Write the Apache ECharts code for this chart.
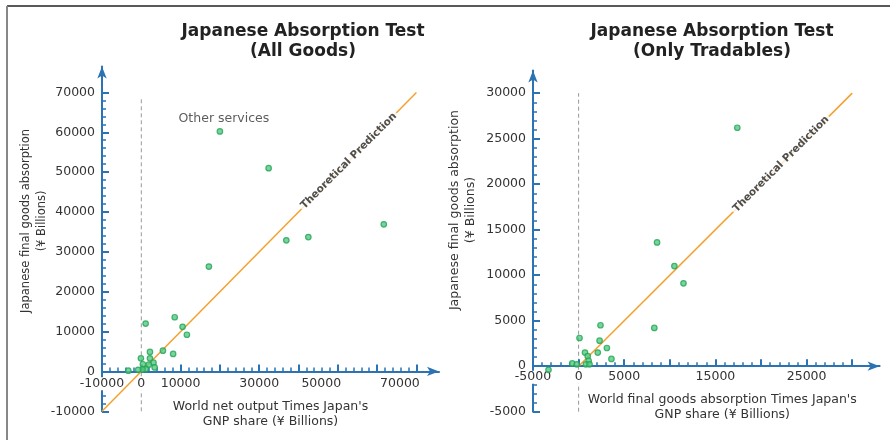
<!DOCTYPE html>
<html>
<head>
<meta charset="utf-8">
<script src="https://cdn.jsdelivr.net/npm/echarts@6.0.0/dist/echarts.min.js"></script>
<style>html,body{margin:0;padding:0;background:#fff;}#c{width:890px;height:440px;}</style>
</head>
<body>
<div id="c"></div>
<script>
// ---------- data ----------
var leftX = [20000, 32400, 61700, 42500, 36900, 17200, 8500, 10500, 11600, 1100, 5500, 8100, 2200, -100, 2200, 400, 3100, 1900, 3400, 1100, 300, -800, -3300];
var leftY = [60200, 51000, 36900, 33700, 32900, 26300, 13600, 11200, 9200, 12000, 5200, 4400, 4900, 3300, 3300, 1800, 2200, 1700, 1000, 600, 500, 400, 200];
var leftAnnotation = 'Other services';   // label of leftX[0], leftY[0]
var rightX = [17400, 8600, 10500, 11500, 8300, 2400, 100, 2300, 3100, 700, 2100, 1000, 3600, 1100, 800, 1200, -700, -200, -3300];
var rightY = [26200, 13600, 11000, 9100, 4200, 4500, 3100, 2800, 2000, 1500, 1500, 1100, 800, 600, 200, 200, 300, 200, -400];

var leftPrediction = [[-10000, -10000], [70000, 70000]];
var rightPrediction = [[0, 0], [30000, 30000]];
var leftPredLabelAt = [52800, 52800];
var rightPredLabelAt = [22200, 22200];
var leftZeroLine = [[0, -10000], [0, 69000]];
var rightZeroLine = [[0, -5000], [0, 30000]];

var leftMajorTicks = [-10000, 0, 10000, 20000, 30000, 40000, 50000, 60000, 70000];
var leftXTickLabels = [-10000, 0, 10000, 30000, 50000, 70000];
var leftYTickLabels = [-10000, 0, 10000, 20000, 30000, 40000, 50000, 60000, 70000];
var rightMajorTicks = [-5000, 0, 5000, 10000, 15000, 20000, 25000, 30000];
var rightXTickLabels = [-5000, 0, 5000, 15000, 25000];
var rightYTickLabels = [-5000, 0, 5000, 10000, 15000, 20000, 25000, 30000];

var titles = ['Japanese Absorption Test\n(All Goods)', 'Japanese Absorption Test\n(Only Tradables)'];
var yNames = ['Japanese final goods absorption\n(¥ Billions)', 'Japanese final goods absorption\n(¥ Billions)'];
var xNames = ["World net output Times Japan's\nGNP share (¥ Billions)", "World final goods absorption Times Japan's\nGNP share (¥ Billions)"];
var predLabel = 'Theoretical Prediction';

// ---------- helpers ----------
function minorTicks(majors, step) {
  var out = [];
  for (var v = majors[0]; v <= majors[majors.length - 1]; v += step) {
    if (majors.indexOf(v) < 0) out.push(v);
  }
  return out;
}
function zip(xs, ys) { return xs.map(function (x, i) { return [x, ys[i]]; }); }

var FONT = 'DejaVu Sans';
var AX = '#2b73b2';
var TXT = '#333';

function xAxisPair(grid, min, max, majors, labels, minorStep, yIdx, name, nameGap, namePad, labelMargin, shiftLabels) {
  var major = {
    gridIndex: grid, type: 'value', position: 'bottom', min: min, max: max, z: 3,
    axisLine: { onZero: true, onZeroAxisIndex: yIdx, lineStyle: { color: AX, width: 2 }, symbol: ['none', 'arrow'], symbolSize: [7, 12] },
    axisTick: { inside: true, length: 7, customValues: majors, lineStyle: { color: AX, width: 2 } },
    axisLabel: {
      customValues: labels, margin: labelMargin, color: TXT, fontSize: 12.5, fontFamily: FONT,
      backgroundColor: '#fff',
      formatter: function (v) { return shiftLabels && shiftLabels.indexOf(v) >= 0 ? '{s|' + v + '}' : String(v); },
      rich: { s: { color: TXT, fontSize: 12.5, fontFamily: FONT, padding: [0, 33, 0, 0] } }
    },
    splitLine: { show: false },
    name: name, nameLocation: 'middle', nameGap: nameGap, nameMoveOverlap: false,
    nameTextStyle: { color: TXT, fontSize: 12.5, fontFamily: FONT, lineHeight: 15, padding: namePad }
  };
  var minor = {
    gridIndex: grid, type: 'value', position: 'bottom', min: min, max: max, z: 3,
    axisLine: { show: true, onZero: true, onZeroAxisIndex: yIdx, lineStyle: { opacity: 0 } },
    axisTick: { inside: true, length: 4, customValues: minorTicks(majors, minorStep), lineStyle: { color: AX, width: 1.5 } },
    axisLabel: { show: false }, splitLine: { show: false }
  };
  return [major, minor];
}
function yAxisPair(grid, min, max, majors, labels, minorStep, name, nameGap, namePad, nameSize) {
  var major = {
    gridIndex: grid, type: 'value', position: 'left', min: min, max: max, z: 2,
    axisLine: { onZero: false, lineStyle: { color: AX, width: 2 }, symbol: ['none', 'arrow'], symbolSize: [7, 12] },
    axisTick: { inside: true, length: 7, customValues: majors, lineStyle: { color: AX, width: 2 } },
    axisLabel: { customValues: labels, margin: 7, color: TXT, fontSize: 12.5, fontFamily: FONT,
                 formatter: function (v) { return String(v); } },
    splitLine: { show: false },
    name: name, nameLocation: 'middle', nameRotate: 90, nameGap: nameGap, nameMoveOverlap: false,
    nameTextStyle: { color: TXT, fontSize: nameSize, fontFamily: FONT, lineHeight: 16, padding: namePad }
  };
  var minor = {
    gridIndex: grid, type: 'value', position: 'left', min: min, max: max, z: 2,
    axisLine: { show: true, onZero: false, lineStyle: { opacity: 0 } },
    axisTick: { inside: true, length: 4, customValues: minorTicks(majors, minorStep), lineStyle: { color: AX, width: 1.5 } },
    axisLabel: { show: false }, splitLine: { show: false }
  };
  return [major, minor];
}

var lx = xAxisPair(0, -10000, 75750, leftMajorTicks, leftXTickLabels, 2000, 0, xNames[0], -12, [0, 0, 0, 0], -34, [50000, 70000]);
var rx = xAxisPair(1, -5000, 33000, rightMajorTicks, rightXTickLabels, 1000, 2, xNames[1], -19, [0, 0, 0, 32], -41, null);
var ly = yAxisPair(0, -10000, 76500, leftMajorTicks, leftYTickLabels, 2000, yNames[0], 52, [0, 0, 0, 36], 11.5);
var ry = yAxisPair(1, -5000, 32500, rightMajorTicks, rightYTickLabels, 1000, yNames[1], 54, [0, 0, 0, 62], 12.5);

var pointStyle = { color: '#55c981', borderColor: '#22a356', borderWidth: 1.2 };

function scatterData(xs, ys, annotation) {
  return zip(xs, ys).map(function (p, i) {
    if (i === 0 && annotation) {
      return { value: p, label: { show: true, formatter: annotation, position: 'top', distance: 3, offset: [4, 0], color: TXT, fontSize: 12.5, fontFamily: FONT } };
    }
    return p;
  });
}

function panelSeries(xi, yi, xs, ys, pred, labelAt, zero, annotation) {
  return [
    { type: 'line', xAxisIndex: xi, yAxisIndex: yi, data: zero, symbol: 'none', silent: true, z: 1,
      lineStyle: { color: '#999', width: 1, type: [4, 3] } },
    { type: 'line', xAxisIndex: xi, yAxisIndex: yi, data: pred, symbol: 'none', silent: true, z: 4,
      lineStyle: { color: '#f5a02c', width: 1.5 } },
    { type: 'scatter', xAxisIndex: xi, yAxisIndex: yi, data: [labelAt], symbolSize: 0, z: 5, silent: true,
      label: { show: true, position: 'inside', rotate: 45, formatter: predLabel, color: '#222', fontWeight: 'bold',
               fontSize: 10.5, fontFamily: FONT, backgroundColor: '#fff', padding: [0, 2] } },
    { type: 'scatter', xAxisIndex: xi, yAxisIndex: yi, data: scatterData(xs, ys, annotation), symbolSize: 5.5, z: 10,
      itemStyle: pointStyle }
  ];
}

var option = {
  backgroundColor: '#fff',
  animation: false,
  title: [
    { text: titles[0], left: 298, top: 17, textAlign: 'center',
      textStyle: { color: '#222', fontSize: 17, fontWeight: 'bold', fontFamily: FONT, lineHeight: 20 } },
    { text: titles[1], left: 707, top: 17, textAlign: 'center',
      textStyle: { color: '#222', fontSize: 17, fontWeight: 'bold', fontFamily: FONT, lineHeight: 20 } }
  ],
  grid: [
    { left: 102, top: 66.5, width: 337, height: 344.8, outerBoundsMode: 'none', containLabel: false },
    { left: 533, top: 70.4, width: 346.6, height: 341.3, outerBoundsMode: 'none', containLabel: false }
  ],
  xAxis: [lx[0], lx[1], rx[0], rx[1]],
  yAxis: [ly[0], ly[1], ry[0], ry[1]],
  series: [].concat(
    panelSeries(0, 0, leftX, leftY, leftPrediction, leftPredLabelAt, leftZeroLine, leftAnnotation),
    panelSeries(2, 2, rightX, rightY, rightPrediction, rightPredLabelAt, rightZeroLine, null)
  ),
  graphic: [
    { type: 'line', shape: { x1: 7, y1: 6, x2: 890, y2: 6 }, style: { stroke: '#222', lineWidth: 1.5 } },
    { type: 'line', shape: { x1: 7, y1: 6, x2: 7, y2: 440 }, style: { stroke: '#888', lineWidth: 2 } }
  ]
};

var chart = echarts.init(document.getElementById('c'), null, { renderer: 'canvas' });
chart.setOption(option);
</script>
</body>
</html>
